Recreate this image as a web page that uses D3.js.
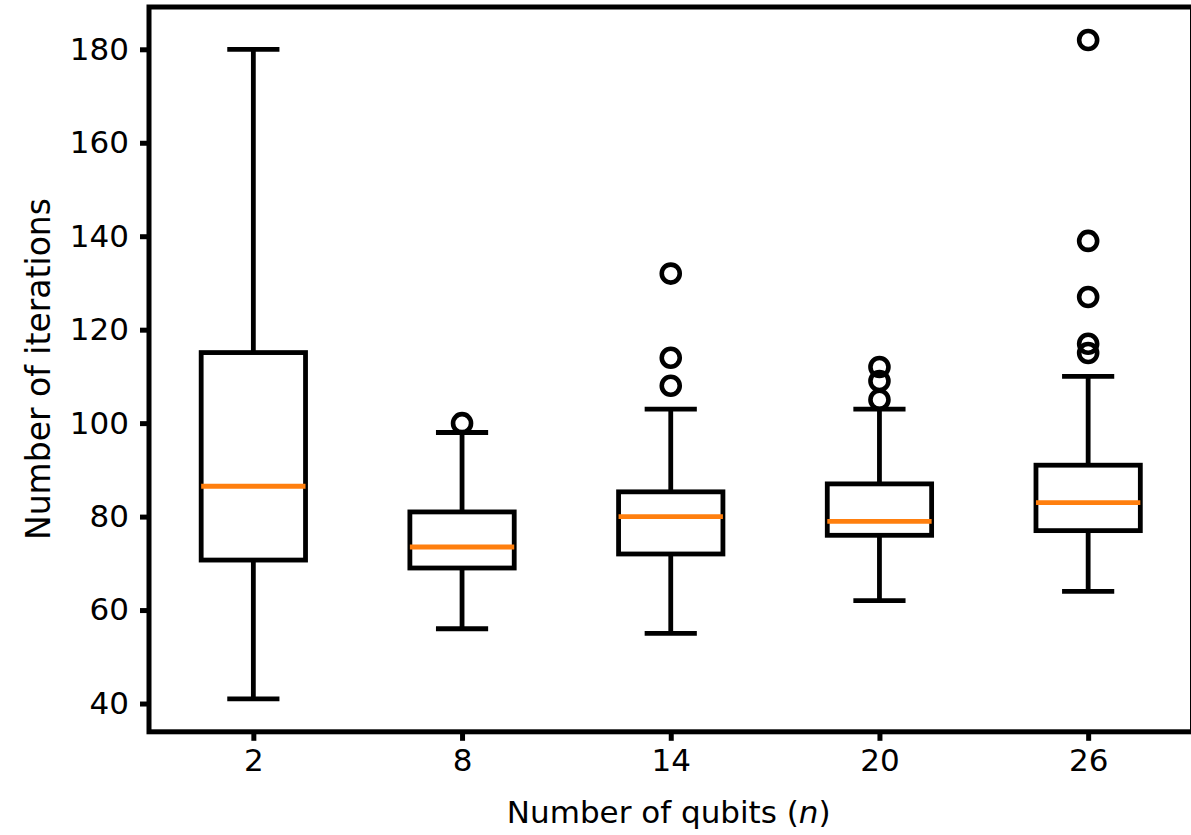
<!DOCTYPE html>
<html>
<head>
<meta charset="utf-8">
<script src="https://cdn.jsdelivr.net/npm/d3@7"></script>
<style>
  html, body { margin: 0; padding: 0; background: #fff; }
  svg { display: block; }
  text { font-family: "DejaVu Sans", sans-serif; fill: #000; }
</style>
</head>
<body>
<svg id="chart" width="1191" height="835"></svg>
<script>
// ---- data ----
const categories = ["2", "8", "14", "20", "26"];
const whiskerLow  = [41, 56, 55, 62, 64];
const q1          = [70.7, 69, 72, 76, 77];
const medians     = [86.5, 73.5, 80, 79, 83];
const q3          = [115.1, 81, 85.3, 87, 91];
const whiskerHigh = [180, 98, 103, 103, 110];
const outliers    = [[], [100], [108, 114, 132], [105, 109, 112], [115, 117, 127, 139, 182]];
const yTicks = [40, 60, 80, 100, 120, 140, 160, 180];
const xLabel = "Number of qubits (";
const yLabel = "Number of iterations";

// ---- layout ----
const svg = d3.select("#chart");
const pLeft = 149, pRight = 1192.5, pTop = 7, pBottom = 731.8;
const fontSize = 31;

const x = d3.scaleLinear().domain([0.5, categories.length + 0.5]).range([pLeft, pRight]);
const y = d3.scaleLinear().domain([33.95, 189.05]).range([pBottom, pTop]);
const boxHalf = (x(1.25) - x(1));   // width 0.5 -> half 0.25
const capHalf = (x(1.125) - x(1));  // cap width 0.25

const g = svg.append("g");

categories.forEach((c, i) => {
  const cx = x(i + 1);
  const lw = 4.8;
  // whiskers
  g.append("line").attr("x1", cx).attr("x2", cx).attr("y1", y(q1[i])).attr("y2", y(whiskerLow[i]))
    .attr("stroke", "#000").attr("stroke-width", lw);
  g.append("line").attr("x1", cx).attr("x2", cx).attr("y1", y(q3[i])).attr("y2", y(whiskerHigh[i]))
    .attr("stroke", "#000").attr("stroke-width", lw);
  // caps
  [whiskerLow[i], whiskerHigh[i]].forEach(v => {
    g.append("line").attr("x1", cx - capHalf).attr("x2", cx + capHalf).attr("y1", y(v)).attr("y2", y(v))
      .attr("stroke", "#000").attr("stroke-width", lw);
  });
  // box
  g.append("rect").attr("x", cx - boxHalf).attr("width", 2 * boxHalf)
    .attr("y", y(q3[i])).attr("height", y(q1[i]) - y(q3[i]))
    .attr("fill", "none").attr("stroke", "#000").attr("stroke-width", lw).attr("stroke-linejoin", "miter");
  // median
  g.append("line").attr("x1", cx - boxHalf).attr("x2", cx + boxHalf).attr("y1", y(medians[i])).attr("y2", y(medians[i]))
    .attr("stroke", "#ff7f0e").attr("stroke-width", lw);
  // outliers
  outliers[i].forEach(v => {
    g.append("circle").attr("cx", cx).attr("cy", y(v)).attr("r", 9)
      .attr("fill", "none").attr("stroke", "#000").attr("stroke-width", 4.6);
  });
});

// ---- axes ----
const xAxis = d3.axisBottom(x).tickValues(categories.map((c, i) => i + 1))
  .tickFormat((d) => categories[d - 1]).tickSize(9).tickPadding(8);
const gx = svg.append("g").attr("transform", `translate(0,${pBottom})`).call(xAxis);
gx.select(".domain").remove();
gx.selectAll(".tick line").attr("stroke", "#000").attr("stroke-width", 5);
gx.selectAll(".tick text").attr("font-size", fontSize).attr("font-family", "DejaVu Sans");

const yAxis = d3.axisLeft(y).tickValues(yTicks).tickSize(9).tickPadding(11);
const gy = svg.append("g").attr("transform", `translate(${pLeft},0)`).call(yAxis);
gy.select(".domain").remove();
gy.selectAll(".tick line").attr("stroke", "#000").attr("stroke-width", 5);
gy.selectAll(".tick text").attr("font-size", fontSize).attr("font-family", "DejaVu Sans");

// spines
svg.append("rect").attr("x", pLeft).attr("y", pTop).attr("width", pRight - pLeft).attr("height", pBottom - pTop)
  .attr("fill", "none").attr("stroke", "#000").attr("stroke-width", 5).attr("stroke-linejoin", "miter");

// labels
const xl = svg.append("text").attr("x", (pLeft + pRight) / 2 - 2).attr("y", 823)
  .attr("text-anchor", "middle").attr("font-size", fontSize);
xl.append("tspan").text(xLabel);
xl.append("tspan").attr("font-style", "italic").text("n");
xl.append("tspan").text(")");

svg.append("text").attr("transform", `translate(50,369) rotate(-90)`)
  .attr("text-anchor", "middle").attr("font-size", 33).text(yLabel);
</script>
</body>
</html>
